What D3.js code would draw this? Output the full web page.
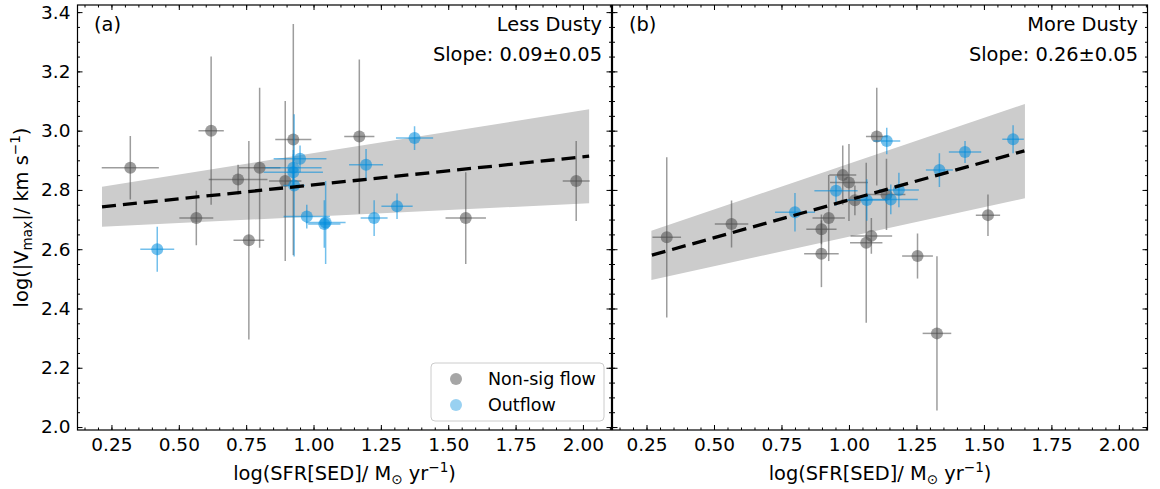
<!DOCTYPE html>
<html><head><meta charset="utf-8">
<script src="https://cdn.jsdelivr.net/npm/d3@7"></script>
<style>body{margin:0;background:#fff}svg{display:block;font-family:"DejaVu Sans",sans-serif}</style>
</head><body><svg id="c" width="1160" height="489"></svg>
<script>
// ---------- data ----------
const xTicks = [0.25, 0.50, 0.75, 1.00, 1.25, 1.50, 1.75, 2.00];
const yTicks = [2.0, 2.2, 2.4, 2.6, 2.8, 3.0, 3.2, 3.4];
const xDomain = [0.124, 2.106];
const yDomain = [1.99, 3.424];

// Panel (a) Less Dusty
const aGrayX    = [0.32, 0.62, 0.565, 0.72, 0.76, 0.80, 0.895, 0.925, 1.17, 1.565, 1.975];
const aGrayY    = [2.875, 3.00, 2.705, 2.835, 2.63, 2.875, 2.83, 2.97, 2.98, 2.705, 2.83];
const aGrayXerr = [0.106, 0.047, 0.063, 0.109, 0.057, 0.077, 0.06, 0.067, 0.056, 0.075, 0.05];
const aGrayYerr = [0.107, 0.25, 0.092, 0.05, 0.335, 0.27, 0.27, 0.39, 0.26, 0.155, 0.135];
const aBlueX    = [0.42, 0.95, 0.925, 0.925, 0.928, 0.975, 1.045, 1.04, 1.375, 1.195, 1.225, 1.31];
const aBlueY    = [2.60, 2.905, 2.875, 2.86, 2.815, 2.71, 2.69, 2.685, 2.975, 2.885, 2.705, 2.745];
const aBlueXerr = [0.063, 0.098, 0.105, 0.11, 0.04, 0.086, 0.074, 0.06, 0.069, 0.063, 0.05, 0.058];
const aBlueYerr = [0.076, 0.045, 0.06, 0.06, 0.24, 0.04, 0.14, 0.08, 0.04, 0.053, 0.06, 0.043];
const aFitX  = [0.215, 2.023];
const aFitY  = [2.743, 2.914];
const aBandLo = [2.676, 2.755];
const aBandHi = [2.811, 3.072];

// Panel (b) More Dusty
const bGrayX    = [0.325, 0.565, 0.925, 0.898, 0.898, 0.977, 1.00, 1.022, 1.103, 1.139, 1.083, 1.064, 1.515, 1.254, 1.326];
const bGrayY    = [2.64, 2.685, 2.705, 2.667, 2.585, 2.85, 2.825, 2.765, 2.98, 2.785, 2.645, 2.622, 2.715, 2.577, 2.316];
const bGrayXerr = [0.053, 0.062, 0.06, 0.056, 0.064, 0.05, 0.07, 0.05, 0.04, 0.07, 0.077, 0.06, 0.045, 0.057, 0.053];
const bGrayYerr = [0.27, 0.079, 0.145, 0.05, 0.113, 0.1, 0.13, 0.05, 0.165, 0.12, 0.06, 0.27, 0.07, 0.076, 0.26];
const bBlueX    = [0.80, 0.952, 1.066, 1.14, 1.155, 1.185, 1.335, 1.43, 1.608];
const bBlueY    = [2.725, 2.797, 2.766, 2.965, 2.768, 2.80, 2.867, 2.928, 2.971];
const bBlueXerr = [0.074, 0.08, 0.074, 0.05, 0.1, 0.074, 0.05, 0.06, 0.04];
const bBlueYerr = [0.065, 0.05, 0.07, 0.045, 0.05, 0.058, 0.057, 0.037, 0.047];
const bFitX  = [0.27, 1.65];
const bFitY  = [2.58, 2.932];
const bBandX = [0.268, 1.652];
const bBandLo = [2.496, 2.772];
const bBandHi = [2.662, 3.090];

const legendLabels = ["Non-sig flow", "Outflow"];

// ---------- styles ----------
const GRAY = "#4d4d4d", BLUE = "#008cdc", ALPHA = 0.55;
const FS = 19.4, TFS = 18.5;

const svg = d3.select("#c");
const yTop = 5, yBot = 430;
const panels = [
  {x0: 77.5, x1: 611.5, tag: "(a)", title: "Less Dusty", slope: "Slope: 0.09\u00b10.05",
   gx: aGrayX, gy: aGrayY, gxe: aGrayXerr, gye: aGrayYerr,
   bx: aBlueX, by: aBlueY, bxe: aBlueXerr, bye: aBlueYerr,
   fx: aFitX, fy: aFitY, bandX: aFitX, lo: aBandLo, hi: aBandHi, yLabels: true, legend: true},
  {x0: 612.5, x1: 1147.5, tag: "(b)", title: "More Dusty", slope: "Slope: 0.26\u00b10.05",
   gx: bGrayX, gy: bGrayY, gxe: bGrayXerr, gye: bGrayYerr,
   bx: bBlueX, by: bBlueY, bxe: bBlueXerr, bye: bBlueYerr,
   fx: bFitX, fy: bFitY, bandX: bBandX, lo: bBandLo, hi: bBandHi, yLabels: false, legend: false}
];

const y = d3.scaleLinear().domain(yDomain).range([yBot, yTop]);
const minorY = d3.range(2.0, 3.4001, 0.05).map(v => +v.toFixed(2));
const minorX = d3.range(0.15, 2.1001, 0.05).map(v => +v.toFixed(2));

panels.forEach((p, i) => {
  const x = d3.scaleLinear().domain(xDomain).range([p.x0, p.x1]);
  const g = svg.append("g");
  const cid = "clip" + i;
  svg.append("clipPath").attr("id", cid).append("rect")
    .attr("x", p.x0).attr("y", yTop).attr("width", p.x1 - p.x0).attr("height", yBot - yTop);
  const plot = g.append("g").attr("clip-path", `url(#${cid})`);

  // confidence band
  const band = p.bandX.map((xv, k) => ({x: xv, lo: p.lo[k], hi: p.hi[k]}));
  plot.append("path").datum(band)
    .attr("d", d3.area().x(d => x(d.x)).y0(d => y(d.lo)).y1(d => y(d.hi)))
    .attr("fill", "#cccccc");

  // points with error bars
  function drawSet(xs, ys, xe, ye, color) {
    const pts = xs.map((v, k) => ({x: v, y: ys[k], xe: xe[k], ye: ye[k]}));
    const s = plot.append("g");
    pts.forEach(d => {
      s.append("line").attr("x1", x(d.x - d.xe)).attr("x2", x(d.x + d.xe))
        .attr("y1", y(d.y)).attr("y2", y(d.y))
        .attr("stroke", color).attr("stroke-width", 1.5).attr("stroke-opacity", ALPHA);
      s.append("line").attr("x1", x(d.x)).attr("x2", x(d.x))
        .attr("y1", y(d.y - d.ye)).attr("y2", y(d.y + d.ye))
        .attr("stroke", color).attr("stroke-width", 1.5).attr("stroke-opacity", ALPHA);
      s.append("circle").attr("cx", x(d.x)).attr("cy", y(d.y)).attr("r", 6)
        .attr("fill", color).attr("fill-opacity", ALPHA);
    });
  }
  drawSet(p.gx, p.gy, p.gxe, p.gye, GRAY);
  drawSet(p.bx, p.by, p.bxe, p.bye, BLUE);

  // fit line
  const fit = p.fx.map((xv, k) => [xv, p.fy[k]]);
  plot.append("path").datum(fit)
    .attr("d", d3.line().x(d => x(d[0])).y(d => y(d[1])))
    .attr("fill", "none").attr("stroke", "#000").attr("stroke-width", 3.3)
    .attr("stroke-dasharray", "14,7");

  // axes
  g.append("g").attr("transform", `translate(0,${yBot})`)
    .call(d3.axisBottom(x).tickValues(xTicks).tickSize(-5).tickPadding(8)
      .tickFormat(d3.format(".2f")));
  g.append("g").attr("transform", `translate(0,${yBot})`)
    .call(d3.axisBottom(x).tickValues(minorX).tickSize(-2.5).tickFormat(""));
  g.append("g").attr("transform", `translate(0,${yTop})`)
    .call(d3.axisTop(x).tickValues(xTicks).tickSize(-5).tickFormat(""));
  g.append("g").attr("transform", `translate(0,${yTop})`)
    .call(d3.axisTop(x).tickValues(minorX).tickSize(-2.5).tickFormat(""));
  g.append("g").attr("transform", `translate(${p.x0},0)`)
    .call(d3.axisLeft(y).tickValues(yTicks).tickSize(-5).tickPadding(7)
      .tickFormat(p.yLabels ? d3.format(".1f") : ""));
  g.append("g").attr("transform", `translate(${p.x0},0)`)
    .call(d3.axisLeft(y).tickValues(minorY).tickSize(-2.5).tickFormat(""));
  g.append("g").attr("transform", `translate(${p.x1},0)`)
    .call(d3.axisRight(y).tickValues(yTicks).tickSize(-5).tickFormat(""));
  g.append("g").attr("transform", `translate(${p.x1},0)`)
    .call(d3.axisRight(y).tickValues(minorY).tickSize(-2.5).tickFormat(""));
  g.selectAll(".domain").remove();
  g.selectAll(".tick line").attr("stroke", "#000").attr("stroke-width", 1);
  g.selectAll(".tick text").attr("font-family", "DejaVu Sans").attr("font-size", TFS).attr("fill", "#000");

  // frame
  g.append("rect").attr("x", p.x0).attr("y", yTop).attr("width", p.x1 - p.x0).attr("height", yBot - yTop)
    .attr("fill", "none").attr("stroke", "#000").attr("stroke-width", 1.2);

  // annotations
  g.append("text").attr("x", p.x0 + 16.5).attr("y", 31).attr("font-size", FS).text(p.tag);
  g.append("text").attr("x", p.x1 - 9.5).attr("y", 31).attr("font-size", FS)
    .attr("text-anchor", "end").text(p.title);
  g.append("text").attr("x", p.x1 - 9.5).attr("y", 61).attr("font-size", FS)
    .attr("text-anchor", "end").text(p.slope);

  // x label
  const xl = g.append("text").attr("x", (p.x0 + p.x1) / 2).attr("y", 480)
    .attr("text-anchor", "middle").attr("font-size", FS);
  xl.append("tspan").text("log(SFR[SED]/ M");
  xl.append("tspan").attr("font-size", FS * 0.7).attr("dy", 4).text("\u2299");
  xl.append("tspan").attr("dy", -4).text(" yr");
  xl.append("tspan").attr("font-size", FS * 0.7).attr("dy", -8).text("\u22121");
  xl.append("tspan").attr("dy", 8).text(")");

  // legend
  if (p.legend) {
    const lg = g.append("g");
    lg.append("rect").attr("x", 431).attr("y", 363).attr("width", 173).attr("height", 58)
      .attr("rx", 4).attr("fill", "#fff").attr("fill-opacity", 0.8)
      .attr("stroke", "#cccccc").attr("stroke-width", 1);
    [GRAY, BLUE].forEach((c, k) => {
      const cy = 379 + k * 26;
      lg.append("circle").attr("cx", 456).attr("cy", cy).attr("r", 6)
        .attr("fill", c).attr("fill-opacity", k === 0 ? 0.5 : 0.4);
      lg.append("text").attr("x", 488).attr("y", cy + 6.3).attr("font-size", 17.5)
        .text(legendLabels[k]);
    });
  }
});

// y label
const yl = svg.append("text").attr("transform", `translate(28,${(yTop + yBot) / 2}) rotate(-90)`)
  .attr("text-anchor", "middle").attr("font-size", FS);
yl.append("tspan").text("log(|V");
yl.append("tspan").attr("font-size", FS * 0.7).attr("dy", 4).text("max");
yl.append("tspan").attr("dy", -4).text("|/ km s");
yl.append("tspan").attr("font-size", FS * 0.7).attr("dy", -8).text("\u22121");
yl.append("tspan").attr("dy", 8).text(")");
</script></body></html>
